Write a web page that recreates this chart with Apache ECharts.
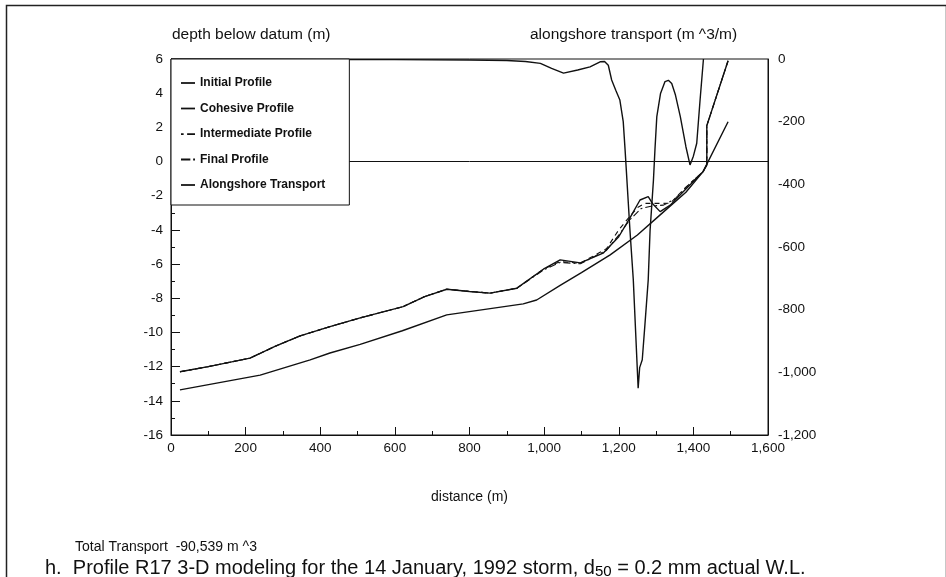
<!DOCTYPE html>
<html>
<head>
<meta charset="utf-8">
<script src="https://cdn.jsdelivr.net/npm/echarts@6/dist/echarts.min.js"></script>
<style>
html,body{margin:0;padding:0;background:#fff;}
#chart{width:946px;height:577px;}
</style>
</head>
<body>
<div id="chart"></div>
<script>
// ---- data (distance m, value) ----
const initialProfile = [[24,-12.3],[100,-12.0],[212,-11.5],[280,-10.8],[346,-10.2],[426,-9.66],[507,-9.15],[622,-8.49],[680,-7.9],[739,-7.47],[800,-7.6],[855,-7.7],[927,-7.41],[998,-6.3],[1043,-5.75],[1097,-5.93],[1158,-5.36],[1200,-4.4],[1230,-3.3],[1257,-2.25],[1279,-2.05],[1292,-2.5],[1311,-2.93],[1338,-2.55],[1380,-1.6],[1426,-0.59],[1436,-0.2],[1436,2.1],[1493,5.9]];
const cohesiveProfile = [[24,-13.36],[239,-12.5],[373,-11.6],[426,-11.2],[507,-10.7],[620,-9.9],[739,-8.97],[944,-8.33],[980,-8.1],[1043,-7.25],[1100,-6.5],[1177,-5.46],[1250,-4.3],[1311,-3.12],[1380,-1.8],[1426,-0.59],[1493,2.33]];
const intermediateProfile = [[24,-12.3],[100,-12.0],[212,-11.5],[280,-10.8],[346,-10.2],[426,-9.66],[507,-9.15],[622,-8.49],[680,-7.9],[739,-7.47],[800,-7.6],[855,-7.7],[927,-7.41],[998,-6.3],[1043,-5.85],[1097,-5.95],[1167,-5.1],[1200,-4.0],[1230,-3.2],[1250,-2.7],[1270,-2.45],[1300,-2.45],[1338,-2.44],[1380,-1.5],[1426,-0.59],[1436,-0.2],[1436,2.1],[1493,5.9]];
const finalProfile = [[24,-12.3],[100,-12.0],[212,-11.5],[280,-10.8],[346,-10.2],[426,-9.66],[507,-9.15],[622,-8.49],[680,-7.9],[739,-7.47],[800,-7.6],[855,-7.7],[927,-7.41],[998,-6.35],[1043,-5.9],[1097,-5.98],[1167,-5.2],[1200,-4.3],[1230,-3.4],[1260,-2.75],[1290,-2.6],[1320,-2.55],[1350,-2.2],[1390,-1.3],[1426,-0.59],[1436,-0.2],[1436,2.1],[1493,5.9]];
const alongshoreTransport = [[0,0],[200,-1],[400,-2],[600,-2],[800,-3],[900,-5],[950,-8],[990,-14],[1020,-30],[1052,-45],[1090,-35],[1123,-25],[1150,-9],[1162,-8],[1172,-20],[1181,-67],[1192,-100],[1203,-131],[1212,-200],[1217,-290],[1230,-546],[1239,-705],[1252,-1051],[1256,-985],[1260,-990],[1263,-960],[1270,-850],[1279,-705],[1284,-546],[1293,-386],[1297,-290],[1302,-184],[1312,-110],[1324,-72],[1333,-68],[1342,-78],[1352,-115],[1365,-184],[1380,-280],[1391,-338],[1400,-310],[1409,-269],[1418,-130],[1427,0]];
const seriesNames = ['Initial Profile','Cohesive Profile','Intermediate Profile','Final Profile','Alongshore Transport'];
const waterLevel = 0;

const FONT = 'Liberation Sans, Arial, sans-serif';
const fmt = v => Number(v).toLocaleString('en-US');
const chart = echarts.init(document.getElementById('chart'), null, {renderer:'canvas'});
const lineBase = {type:'line', symbol:'none', showSymbol:false, smooth:false, animation:false};
const ICON_SOLID = 'path://M0,0H16V2H0Z';
const ICON_DASH = 'path://M0,0H3V2H0Z M7,0H16V2H7Z';
const ICON_DASHDOT = 'path://M0,0H10V2H0Z M13,0H15V2H13Z';

chart.setOption({
  animation:false,
  backgroundColor:'#fff',
  grid:{left:171, right:178, top:59, bottom:142, show:true, borderColor:'#111', borderWidth:1, backgroundColor:'transparent'},
  xAxis:{type:'value', min:0, max:1600, interval:200,
    axisLine:{onZero:false, lineStyle:{color:'#111', width:1}},
    axisTick:{inside:true, length:8, lineStyle:{color:'#111'}},
    minorTick:{show:true, splitNumber:2, length:4, lineStyle:{color:'#111'}},
    splitLine:{show:false},
    axisLabel:{color:'#111', fontSize:13.5, fontFamily:FONT, margin:6, formatter:fmt}},
  yAxis:[
    {type:'value', min:-16, max:6, interval:2, position:'left',
      axisLine:{show:true, onZero:false, lineStyle:{color:'#111', width:1}},
      axisTick:{show:true, inside:true, length:9, lineStyle:{color:'#111'}},
      minorTick:{show:true, splitNumber:2, length:4, lineStyle:{color:'#111'}},
      splitLine:{show:false},
      axisLabel:{color:'#111', fontSize:13.5, fontFamily:FONT, margin:8, formatter:fmt}},
    {type:'value', min:-1200, max:0, interval:200, position:'right',
      axisLine:{show:true, onZero:false, lineStyle:{color:'#111', width:1}},
      axisTick:{show:false},
      splitLine:{show:false},
      axisLabel:{color:'#111', fontSize:13.5, fontFamily:FONT, margin:10, formatter:fmt}}
  ],
  legend:{
    orient:'vertical', left:171, top:59, z:20,
    data:[
      {name:seriesNames[0], icon:ICON_SOLID},
      {name:seriesNames[1], icon:ICON_SOLID},
      {name:seriesNames[2], icon:ICON_DASH},
      {name:seriesNames[3], icon:ICON_DASHDOT},
      {name:seriesNames[4], icon:ICON_SOLID}
    ],
    backgroundColor:'#fff', borderColor:'#111', borderWidth:1,
    padding:[18, 24, 14, 10], itemGap:13.5, itemWidth:14, itemHeight:2,
    itemStyle:{color:'#111'},
    textStyle:{color:'#111', fontSize:12, fontFamily:FONT, fontWeight:'bold'},
    selectedMode:false
  },
  series:[
    Object.assign({}, lineBase, {name:seriesNames[0], data:initialProfile, lineStyle:{color:'#111', width:1.4},
      itemStyle:{color:'#111'},
      markLine:{silent:true, symbol:'none', label:{show:false}, animation:false, z:2,
        lineStyle:{color:'#111', type:'solid', width:1}, data:[{yAxis:waterLevel}]}}),
    Object.assign({}, lineBase, {name:seriesNames[1], data:cohesiveProfile, lineStyle:{color:'#111', width:1.4}, itemStyle:{color:'#111'}}),
    Object.assign({}, lineBase, {name:seriesNames[2], data:intermediateProfile, lineStyle:{color:'#111', width:1.1, type:[5,4]}, itemStyle:{color:'#111'}}),
    Object.assign({}, lineBase, {name:seriesNames[3], data:finalProfile, lineStyle:{color:'#111', width:1.1, type:[7,3,2,3]}, itemStyle:{color:'#111'}}),
    Object.assign({}, lineBase, {name:seriesNames[4], data:alongshoreTransport, yAxisIndex:1, lineStyle:{color:'#111', width:1.4}, itemStyle:{color:'#111'}})
  ],
  graphic:[
    {type:'rect', left:4, top:3, shape:{width:940, height:600}, style:{fill:'none', stroke:'#222', lineWidth:1.5}, silent:true},
    {type:'text', left:172, top:27, style:{text:'depth below datum (m)', fontSize:15.5, fontFamily:FONT, fill:'#111'}},
    {type:'text', left:530, top:27, style:{text:'alongshore transport (m ^3/m)', fontSize:15.5, fontFamily:FONT, fill:'#111'}},
    {type:'text', left:431, top:490, style:{text:'distance (m)', fontSize:14, fontFamily:FONT, fill:'#111'}},
    {type:'text', left:75, top:540, style:{text:'Total Transport  -90,539 m ^3', fontSize:14, fontFamily:FONT, fill:'#111'}},
    {type:'text', left:45, top:558, style:{
      text:'{a|h.  Profile R17 3-D modeling for the 14 January, 1992 storm, d}{s|50}{a| = 0.2 mm actual W.L.}',
      rich:{a:{fontSize:20, fontFamily:FONT, fill:'#111', color:'#111'}, s:{fontSize:15, fontFamily:FONT, color:'#111', verticalAlign:'bottom', padding:[8,0,0,0]}}}}
  ]
});
</script>
</body>
</html>
